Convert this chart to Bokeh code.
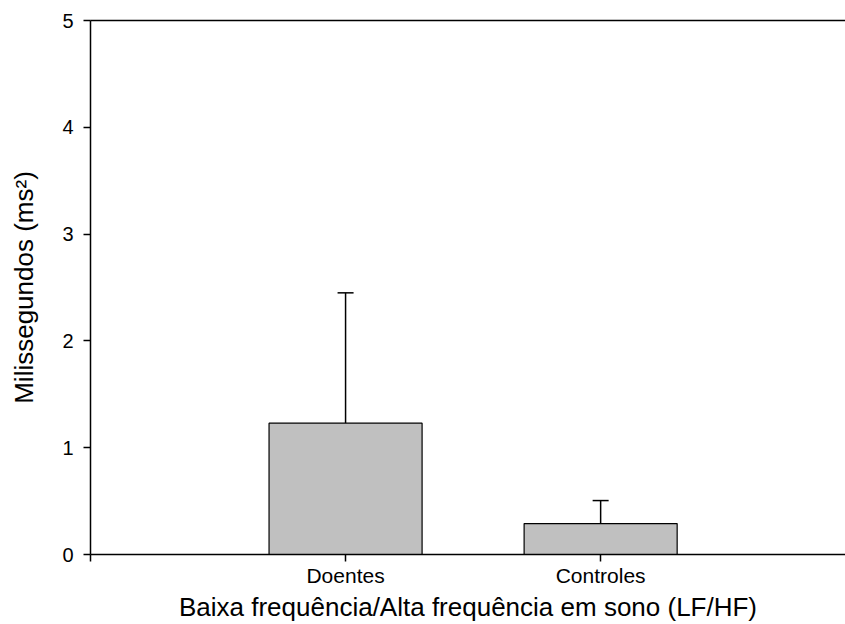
from bokeh.plotting import figure
from bokeh.models import ColumnDataSource, LinearAxis, Whisker, TeeHead, FixedTicker, Range1d
from bokeh.embed import file_html
from bokeh.resources import INLINE

categories = ["Doentes", "Controles"]
positions = [1, 2]
means = [1.23, 0.29]
errors = [1.22, 0.215]
y_ticks = [0, 1, 2, 3, 4, 5]

upper = [m + e for m, e in zip(means, errors)]
src = ColumnDataSource(dict(x=positions, top=means, upper=upper, cat=categories))

FONT = "Liberation Sans"

p = figure(width=845, height=624, output_backend="svg", toolbar_location=None,
           x_range=Range1d(0, 2.96), y_range=Range1d(0, 5),
           min_border_left=90, min_border_right=0, min_border_top=20, min_border_bottom=69,
           x_axis_label="Baixa frequência/Alta frequência em sono (LF/HF)",
           y_axis_label="Milissegundos (ms²)")
p.outline_line_color = None
p.grid.visible = False
p.background_fill_color = "white"
p.border_fill_color = "white"

p.vbar(x="x", top="top", bottom=0, width=0.6, source=src,
       fill_color="#c0c0c0", line_color="black", line_width=1.2)

w = Whisker(base="x", lower="top", upper="upper", source=src,
            line_color="black", line_width=1.5,
            upper_head=TeeHead(size=16, line_color="black", line_width=1.5),
            lower_head=None)
p.add_layout(w)

xa = p.xaxis[0]
xa.ticker = FixedTicker(ticks=[0] + positions)
overrides = {0: ""}
overrides.update({pos: c for pos, c in zip(positions, categories)})
xa.major_label_overrides = overrides
xa.minor_tick_line_color = None
xa.major_tick_in = 0
xa.major_tick_out = 7
xa.axis_line_width = 1.5
xa.major_tick_line_width = 1.5
xa.major_label_text_font = FONT
xa.major_label_text_font_size = "21px"
xa.major_label_text_color = "black"
xa.major_label_standoff = 2
xa.axis_label_text_font = FONT
xa.axis_label_text_font_size = "26px"
xa.axis_label_text_font_style = "normal"
xa.axis_label_text_color = "black"
xa.axis_label_standoff = 2

ya = p.yaxis[0]
ya.ticker = FixedTicker(ticks=y_ticks)
ya.minor_tick_line_color = None
ya.major_tick_in = 0
ya.major_tick_out = 7
ya.axis_line_width = 1.5
ya.major_tick_line_width = 1.5
ya.major_label_text_font = FONT
ya.major_label_text_font_size = "20px"
ya.major_label_text_color = "black"
ya.major_label_standoff = 10
ya.axis_label_text_font = FONT
ya.axis_label_text_font_size = "26px"
ya.axis_label_text_font_style = "normal"
ya.axis_label_text_color = "black"
ya.axis_label_standoff = 20

top_axis = LinearAxis(ticker=FixedTicker(ticks=[]), major_label_text_font_size="0px",
                      axis_line_width=1.5, minor_tick_line_color=None, major_tick_line_color=None)
p.add_layout(top_axis, "above")

open("out.html", "w").write(file_html(p, INLINE))
